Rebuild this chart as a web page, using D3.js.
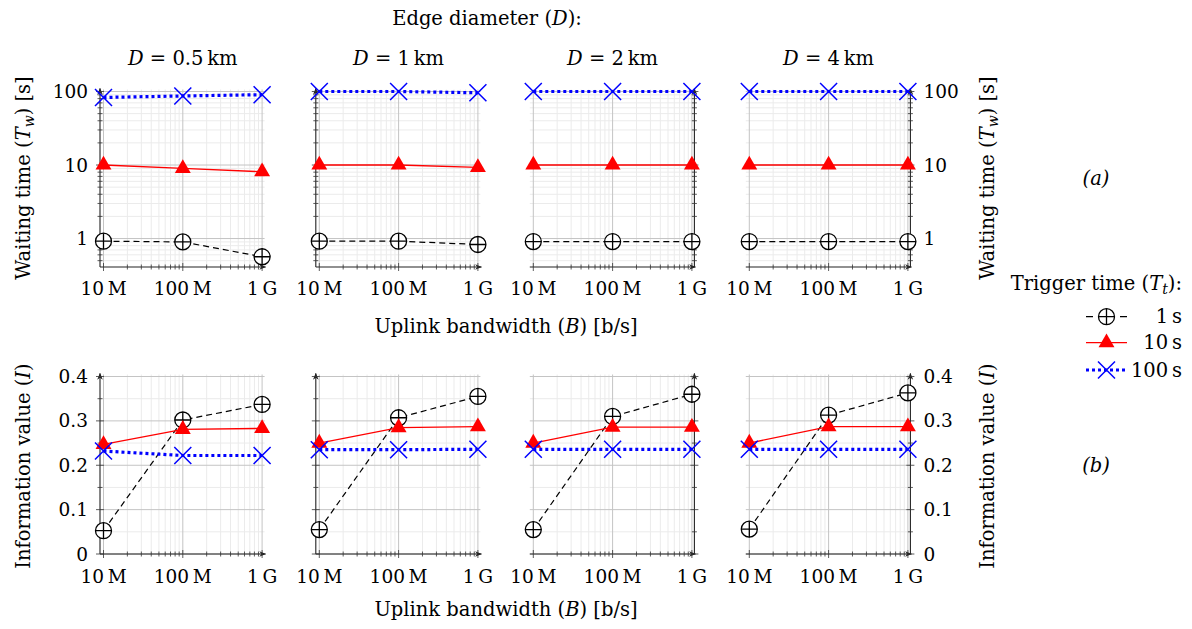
<!DOCTYPE html>
<html>
<head>
<meta charset="utf-8">
<script src="https://cdn.jsdelivr.net/npm/d3@7"></script>
<style>
  body { margin: 0; background: #fff; }
  svg { font-family: "DejaVu Serif", "Liberation Serif", serif; }
</style>
</head>
<body>
<div id="chart"></div>
<script>
const svgWidth = 1192;
const svgHeight = 629;
const fs = 19.5;   // titles, labels
const fsTick = 18.5;

// data
const bandwidths = [1e7, 1e8, 1e9];
const xTickLabels = ["10\u2009M", "100\u2009M", "1\u2009G"];
const diameters = ["0.5", "1", "2", "4"];
const triggers = ["1\u2009s", "10\u2009s", "100\u2009s"];

// waiting time (T_w) [s], one row per diameter
const waitT1 = [[0.92, 0.9, 0.565], [0.92, 0.92, 0.83], [0.91, 0.91, 0.91], [0.91, 0.91, 0.91]];
const waitT10 = [[10, 9.0, 8.1], [10, 10, 9.3], [10, 10, 10], [10, 10, 10]];
const waitT100 = [[83, 87, 90.5], [100, 100, 96], [100, 100, 100], [100, 100, 100]];

// information value (I)
const infoT1 = [[0.0525, 0.302, 0.337], [0.055, 0.307, 0.355], [0.055, 0.31, 0.36], [0.056, 0.313, 0.363]];
const infoT10 = [[0.247, 0.281, 0.283], [0.25, 0.285, 0.287], [0.25, 0.286, 0.286], [0.25, 0.287, 0.287]];
const infoT100 = [[0.232, 0.222, 0.222], [0.235, 0.235, 0.236], [0.236, 0.236, 0.236], [0.236, 0.236, 0.236]];

const waitTicks = [1, 10, 100];
const infoTicks = [0, 0.1, 0.2, 0.3, 0.4];

const panelX0 = [103.5, 319.3, 533.3, 749.3]; // pixel of 10 M in each panel
const decade = 79.3;
const padL = 3.5, padR = 2.5;

const svg = d3.select("#chart").append("svg")
  .attr("width", svgWidth)
  .attr("height", svgHeight);

const defs = svg.append("defs");
defs.append("marker")
  .attr("id", "arrow")
  .attr("viewBox", "0 0 10 10")
  .attr("refX", 9).attr("refY", 5)
  .attr("markerWidth", 7).attr("markerHeight", 7)
  .attr("markerUnits", "userSpaceOnUse")
  .attr("orient", "auto")
  .append("path")
  .attr("d", "M0,1 L10,5 L0,9 L3,5 Z")
  .attr("fill", "#222");

const seriesStyle = [
  { color: "#000", width: 1.2, dash: "6,4", mark: "oplus" },
  { color: "#ff0000", width: 1.3, dash: null, mark: "triangle" },
  { color: "#0000ff", width: 3.2, dash: "3,3", mark: "cross" }
];

function drawMark(g, type, x, y, color) {
  if (type === "oplus") {
    const r = 8;
    g.append("circle").attr("cx", x).attr("cy", y).attr("r", r)
      .attr("fill", "#fff").attr("stroke", color).attr("stroke-width", 1.3);
    g.append("path").attr("d", `M${x - r},${y}H${x + r}M${x},${y - r}V${y + r}`)
      .attr("stroke", color).attr("stroke-width", 1.3);
  } else if (type === "triangle") {
    const r = 9.2;
    const pts = [[x, y - r], [x + 0.866 * r, y + 0.5 * r], [x - 0.866 * r, y + 0.5 * r]];
    g.append("path").attr("d", "M" + pts.join("L") + "Z").attr("fill", color);
  } else {
    const s = 8.5;
    g.append("path").attr("d", `M${x - s},${y - s}L${x + s},${y + s}M${x - s},${y + s}L${x + s},${y - s}`)
      .attr("stroke", color).attr("stroke-width", 1.5).attr("fill", "none");
  }
}

function minorLog(lo, hi) {
  const out = [];
  for (let e = Math.floor(Math.log10(lo)); e <= Math.ceil(Math.log10(hi)); e++) {
    for (let m = 1; m <= 9; m++) {
      const v = m * Math.pow(10, e);
      if (v >= lo && v <= hi) out.push(v);
    }
  }
  return out;
}

function drawPanel(i, row) {
  const x0 = panelX0[i];
  const xLeft = x0 - padL, xRight = x0 + 2 * decade + padR;
  const x = d3.scaleLog()
    .domain([1e7 * Math.pow(10, -padL / decade), 1e9 * Math.pow(10, padR / decade)])
    .range([xLeft, xRight]);

  let y, yTop, yBot, majors, minors, series;
  if (row === 0) {
    yTop = 91.5; yBot = 267;
    y = d3.scaleLog().domain([0.41, 100]).range([yBot, yTop]);
    majors = waitTicks;
    minors = minorLog(0.41, 100).filter(v => !majors.includes(v));
    series = [waitT1[i], waitT10[i], waitT100[i]];
  } else {
    yTop = 376.5; yBot = 554;
    y = d3.scaleLinear().domain([0, 0.4]).range([yBot, yTop]);
    majors = infoTicks;
    minors = [0.05, 0.15, 0.25, 0.35];
    series = [infoT1[i], infoT10[i], infoT100[i]];
  }
  const xMinors = minorLog(x.domain()[0], x.domain()[1]).filter(v => !bandwidths.includes(v));

  const g = svg.append("g");

  // grid
  g.selectAll(".gxm").data(xMinors).enter().append("line")
    .attr("x1", d => x(d)).attr("x2", d => x(d)).attr("y1", yTop - 2).attr("y2", yBot)
    .attr("stroke", "#ebebeb").attr("stroke-width", 1);
  g.selectAll(".gym").data(minors).enter().append("line")
    .attr("x1", xLeft).attr("x2", xRight).attr("y1", d => y(d)).attr("y2", d => y(d))
    .attr("stroke", "#ebebeb").attr("stroke-width", 1);
  g.selectAll(".gxM").data(bandwidths).enter().append("line")
    .attr("x1", d => x(d)).attr("x2", d => x(d)).attr("y1", yTop - 2).attr("y2", yBot)
    .attr("stroke", "#c4c4c4").attr("stroke-width", 1);
  g.selectAll(".gyM").data(majors).enter().append("line")
    .attr("x1", xLeft).attr("x2", xRight).attr("y1", d => y(d)).attr("y2", d => y(d))
    .attr("stroke", "#c4c4c4").attr("stroke-width", 1);

  // axes
  const axisX = i < 2 ? xLeft : xRight;
  g.append("line").attr("x1", xLeft).attr("x2", xRight + 1).attr("y1", yBot).attr("y2", yBot)
    .attr("stroke", "#222").attr("stroke-width", 1.1).attr("marker-end", "url(#arrow)");
  g.append("line").attr("x1", axisX).attr("x2", axisX).attr("y1", yBot).attr("y2", yTop - 3)
    .attr("stroke", "#222").attr("stroke-width", 1.1).attr("marker-end", "url(#arrow)");

  // ticks crossing the axis lines
  g.selectAll(".tx").data(bandwidths.concat(xMinors)).enter().append("line")
    .attr("x1", d => x(d)).attr("x2", d => x(d))
    .attr("y1", d => yBot - (bandwidths.includes(d) ? 4 : 2.5))
    .attr("y2", d => yBot + (bandwidths.includes(d) ? 4 : 2.5))
    .attr("stroke", "#333").attr("stroke-width", 0.8);
  g.selectAll(".ty").data(majors.concat(minors)).enter().append("line")
    .attr("y1", d => y(d)).attr("y2", d => y(d))
    .attr("x1", d => axisX - (majors.includes(d) ? 4 : 2.5))
    .attr("x2", d => axisX + (majors.includes(d) ? 4 : 2.5))
    .attr("stroke", "#333").attr("stroke-width", 0.8);

  // x tick labels
  g.selectAll(".xl").data(bandwidths).enter().append("text")
    .attr("x", d => x(d)).attr("y", row === 0 ? 295 : 583)
    .attr("text-anchor", "middle").attr("font-size", fsTick)
    .text((d, k) => xTickLabels[k]);

  // y tick labels on outer panels
  if (i === 0 || i === 3) {
    g.selectAll(".yl").data(majors).enter().append("text")
      .attr("x", i === 0 ? 88 : axisX + 13)
      .attr("y", d => y(d) + 6.5)
      .attr("text-anchor", i === 0 ? "end" : "start").attr("font-size", fsTick)
      .text(d => row === 0 ? d : (d === 0 ? "0" : d3.format(".1f")(d)));
  }

  // series
  series.forEach((vals, s) => {
    const st = seriesStyle[s];
    const line = d3.line().x((d, k) => x(bandwidths[k])).y(d => y(d));
    g.append("path").datum(vals).attr("d", line)
      .attr("fill", "none").attr("stroke", st.color).attr("stroke-width", st.width)
      .attr("stroke-dasharray", st.dash);
    vals.forEach((v, k) => drawMark(g, st.mark, x(bandwidths[k]), y(v), st.color));
  });

  // panel title
  if (row === 0) {
    const t = svg.append("text").attr("x", x0 + decade).attr("y", 65)
      .attr("text-anchor", "middle").attr("font-size", fs);
    t.append("tspan").attr("font-style", "italic").text("D");
    t.append("tspan").text(` = ${diameters[i]}\u2009km`);
  }
}

for (let row = 0; row < 2; row++) {
  for (let i = 0; i < 4; i++) drawPanel(i, row);
}

// header
const head = svg.append("text").attr("x", 487).attr("y", 25)
  .attr("text-anchor", "middle").attr("font-size", fs);
head.append("tspan").text("Edge diameter (");
head.append("tspan").attr("font-style", "italic").text("D");
head.append("tspan").text("):");

// x axis titles
[333, 616].forEach(yy => {
  const t = svg.append("text").attr("x", 506).attr("y", yy)
    .attr("text-anchor", "middle").attr("font-size", fs);
  t.append("tspan").text("Uplink bandwidth (");
  t.append("tspan").attr("font-style", "italic").text("B");
  t.append("tspan").text(") [b/s]");
});

// y axis titles
function waitLabel(cx, cy) {
  const t = svg.append("text").attr("transform", `translate(${cx},${cy}) rotate(-90)`)
    .attr("text-anchor", "middle").attr("font-size", fs);
  t.append("tspan").text("Waiting time (");
  t.append("tspan").attr("font-style", "italic").text("T");
  t.append("tspan").attr("font-style", "italic").attr("font-size", 14).attr("dy", 4).text("w");
  t.append("tspan").attr("dy", -4).text(") [s]");
}
function infoLabel(cx, cy) {
  const t = svg.append("text").attr("transform", `translate(${cx},${cy}) rotate(-90)`)
    .attr("text-anchor", "middle").attr("font-size", fs);
  t.append("tspan").text("Information value (");
  t.append("tspan").attr("font-style", "italic").text("I");
  t.append("tspan").text(")");
}
waitLabel(30, 178);
waitLabel(994, 178);
infoLabel(30, 466);
infoLabel(994, 466);

// (a) / (b)
[["(a)", 185], ["(b)", 472]].forEach(([s, yy]) => {
  svg.append("text").attr("x", 1096).attr("y", yy).attr("text-anchor", "middle")
    .attr("font-size", fs).attr("font-style", "italic").text(s);
});

// legend
const lg = svg.append("g");
const lt = lg.append("text").attr("x", 1182).attr("y", 290).attr("text-anchor", "end").attr("font-size", fs);
lt.append("tspan").text("Trigger time (");
lt.append("tspan").attr("font-style", "italic").text("T");
lt.append("tspan").attr("font-style", "italic").attr("font-size", 14).attr("dy", 4).text("t");
lt.append("tspan").attr("dy", -4).text("):");

const legendY = [316.7, 342.7, 370];
triggers.forEach((name, s) => {
  const st = seriesStyle[s];
  const yy = legendY[s];
  if (s === 0) {
    lg.append("path").attr("d", `M1086,${yy}H1093M1120,${yy}H1127`)
      .attr("stroke", st.color).attr("stroke-width", st.width);
  } else {
    lg.append("line").attr("x1", 1086).attr("x2", 1127).attr("y1", yy).attr("y2", yy)
      .attr("stroke", st.color).attr("stroke-width", st.width).attr("stroke-dasharray", st.dash);
  }
  drawMark(lg, st.mark, 1106.5, yy, st.color);
  lg.append("text").attr("x", 1182).attr("y", yy + 6.5).attr("text-anchor", "end")
    .attr("font-size", fs).text(name);
});
</script>
</body>
</html>
